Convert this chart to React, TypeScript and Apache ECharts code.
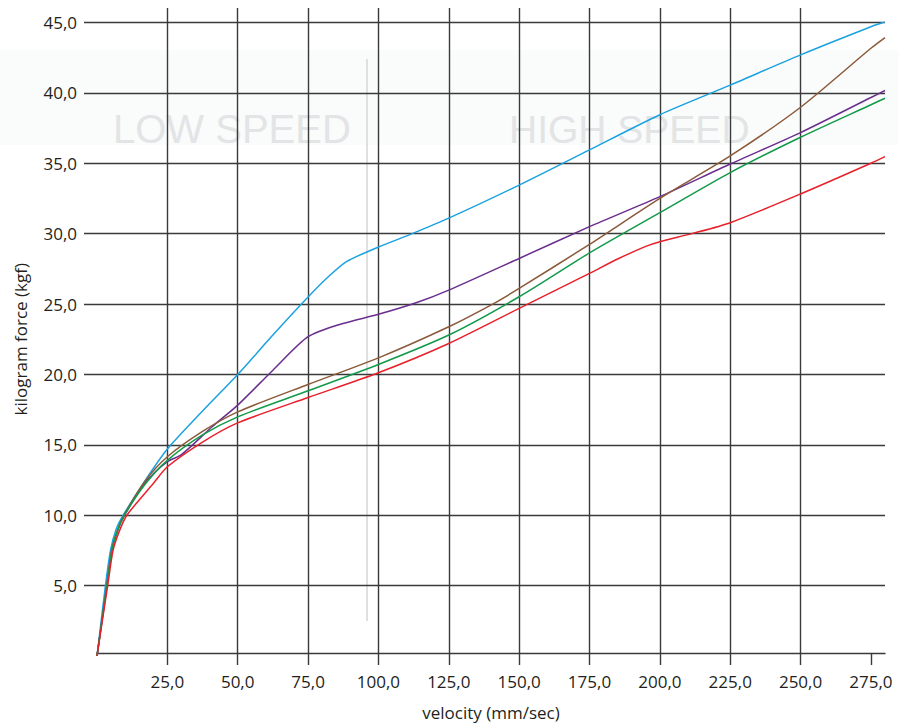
import React, { useEffect, useRef } from "react";
import * as echarts from "echarts";

// velocity (mm/sec) vs kilogram force (kgf)
const blueData: [number, number][] = [
  [0, 0], [3, 5], [4.8, 7.5], [6.8, 9], [9.3, 10], [16.4, 12.25], [25, 14.7], [37.5, 17.4], [50, 20],
  [62.5, 22.8], [75, 25.5], [82, 26.9], [88.5, 28], [100, 29.05], [112, 30], [125, 31.1],
  [150, 33.45], [175, 35.95], [200, 38.45], [225, 40.55], [250, 42.7], [275, 44.7], [280, 45.05],
];
const purpleData: [number, number][] = [
  [0, 0], [3.5, 5], [5.3, 7.5], [7.3, 8.9], [9.8, 10], [17, 12.3], [25, 13.8], [30, 14.3], [41, 16.3],
  [50, 17.82], [62.5, 20.3], [75, 22.68], [87, 23.6], [100, 24.27], [113.4, 25.09], [125, 25.99],
  [150, 28.24], [175, 30.5], [200, 32.63], [225, 34.95], [250, 37.18], [275, 39.67], [280, 40.17],
];
const brownData: [number, number][] = [
  [0, 0], [3.5, 5], [5.2, 7.5], [7.2, 8.9], [9.6, 10], [17, 12.4], [25, 14.15], [37.5, 15.95], [50, 17.34],
  [75, 19.29], [100, 21.18], [125, 23.39], [140.6, 25.0], [150, 26.11], [175, 29.24],
  [200, 32.51], [225, 35.52], [250, 38.98], [275, 43.17], [280, 43.93],
];
const greenData: [number, number][] = [
  [0, 0], [3.5, 5], [5.3, 7.5], [7.3, 8.9], [9.7, 10], [17.3, 12.25], [25, 13.9], [37.5, 15.7], [50, 16.99],
  [75, 18.84], [100, 20.71], [125, 22.8], [150, 25.52], [175, 28.63], [200, 31.49],
  [225, 34.34], [250, 36.85], [275, 39.16], [280, 39.62],
];
const redData: [number, number][] = [
  [0, 0], [3.8, 5], [5.7, 7.5], [7.8, 8.8], [10.6, 10], [20, 12.25], [25, 13.44], [37.5, 15.2], [50, 16.56],
  [75, 18.36], [100, 20.12], [125, 22.2], [150, 24.69], [175, 27.18], [185, 28.2], [195, 29.1], [200, 29.43],
  [211.7, 30.02], [225, 30.78], [250, 32.82], [275, 35.0], [280, 35.47],
];

const xTicks = [25, 50, 75, 100, 125, 150, 175, 200, 225, 250, 275];
const yTicks = [5, 10, 15, 20, 25, 30, 35, 40, 45];

const seriesList = [
  { name: "blue", data: blueData, color: "#1aa2e0" },
  { name: "purple", data: purpleData, color: "#6b2e8f" },
  { name: "brown", data: brownData, color: "#8b5a3a" },
  { name: "green", data: greenData, color: "#12994a" },
  { name: "red", data: redData, color: "#e8202a" },
];

const FONT = "'Open Sans', 'Noto Sans', sans-serif";
const TEXT = "#231f20";
const GRIDC = "#3a3a3a";
const fmt = (v: number) => v.toFixed(1).replace(".", ",");

export default function App() {
  const ref = useRef<HTMLDivElement>(null);
  useEffect(() => {
    if (!ref.current) return;
    const chart = echarts.init(ref.current, undefined, { renderer: "svg" });
    const lineStyle = { color: GRIDC, width: 1.4 };
    chart.setOption({
      animation: false,
      backgroundColor: "#ffffff",
      textStyle: { fontFamily: FONT },
      grid: [
        { left: 97, right: 13, top: 22.5, bottom: 70 },
        { left: 97, right: 13, top: 8, bottom: 70 },
        { left: 84, right: 13, top: 22.5, bottom: 70 },
      ],
      xAxis: [
        { gridIndex: 0, type: "value", min: 0, max: 280, show: false },
        {
          gridIndex: 1,
          type: "value",
          min: 0,
          max: 280,
          interval: 25,
          axisLine: { show: true, lineStyle },
          axisTick: { show: true, length: 12, lineStyle, customValues: xTicks },
          splitLine: { show: true, showMaxLine: false, lineStyle },
          axisLabel: {
            customValues: xTicks,
            margin: 20,
            fontSize: 17,
            color: TEXT,
            fontFamily: FONT,
            formatter: (v: number) => (v === 0 || v === 280 ? "" : fmt(v)),
          },
          name: "velocity (mm/sec)",
          nameLocation: "middle",
          nameGap: 51,
          nameTextStyle: { fontSize: 17, color: TEXT, fontFamily: FONT },
        },
        { gridIndex: 2, type: "value", min: 0, max: 280, show: false },
      ],
      yAxis: [
        { gridIndex: 0, type: "value", min: 0, max: 45, show: false },
        { gridIndex: 1, type: "value", min: 0, max: 45, show: false },
        {
          gridIndex: 2,
          type: "value",
          min: 0,
          max: 45,
          interval: 5,
          axisLine: { show: false },
          axisTick: { show: false },
          splitLine: { show: true, showMinLine: false, lineStyle },
          axisLabel: {
            customValues: yTicks,
            margin: 7,
            fontSize: 17,
            color: TEXT,
            fontFamily: FONT,
            formatter: (v: number) => (v === 0 ? "" : fmt(v)),
          },
          name: "kilogram force (kgf)",
          nameLocation: "middle",
          nameGap: 55,
          nameTextStyle: { fontSize: 17, color: TEXT, fontFamily: FONT },
        },
      ],
      graphic: [
        {
          type: "rect",
          z: -10,
          shape: { x: 0, y: 50, width: 898, height: 95 },
          style: { fill: "#fafbfb" },
        },
        {
          type: "text",
          z: -9,
          x: 113,
          y: 129,
          style: {
            text: "LOW SPEED",
            fill: "#e3e4e6",
            font: "40px 'Liberation Sans', Arial, sans-serif",
            verticalAlign: "middle",
            align: "left",
          },
        },
        {
          type: "text",
          z: -9,
          x: 509,
          y: 129,
          style: {
            text: "HIGH SPEED",
            fill: "#e3e4e6",
            font: "39px 'Liberation Sans', Arial, sans-serif",
            verticalAlign: "middle",
            align: "left",
          },
        },
        {
          type: "line",
          z: -9,
          shape: { x1: 367, y1: 59, x2: 367, y2: 621 },
          style: { stroke: "#e0e0e0", lineWidth: 2 },
        },
      ],
      series: seriesList.map((s) => ({
        name: s.name,
        type: "line",
        xAxisIndex: 0,
        yAxisIndex: 0,
        data: s.data,
        showSymbol: false,
        smooth: 0.25,
        lineStyle: { color: s.color, width: 1.5 },
        itemStyle: { color: s.color },
        z: 5,
      })),
    });
    return () => chart.dispose();
  }, []);
  return (
    <div
      ref={ref}
      style={{ position: "fixed", left: 0, top: 0, width: 898, height: 726 }}
    />
  );
}
